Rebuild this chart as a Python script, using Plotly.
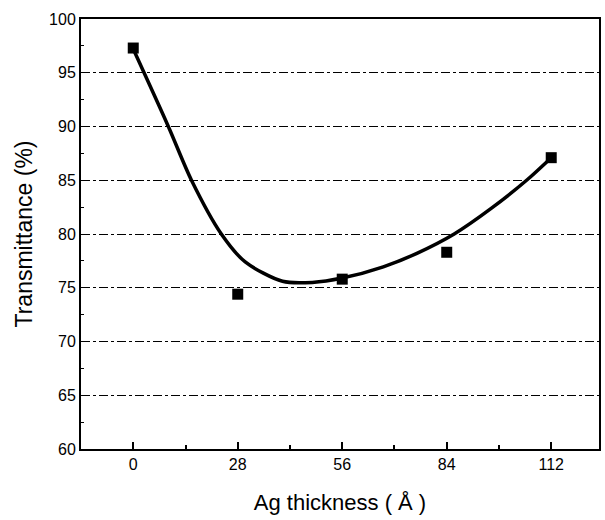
import plotly.graph_objects as go

thickness = [0, 28, 56, 84, 112]
transmittance = [97.3, 74.4, 75.8, 78.3, 87.1]

fit_x = [0, 9.4, 15.6, 23.6, 30, 40, 48, 56, 67, 76, 86, 96, 105.4, 112]
fit_y = [97.2, 90.0, 85.0, 80.0, 77.4, 75.6, 75.5, 75.9, 76.95, 78.2, 80.0, 82.4, 85.0, 87.1]

x_ticks = [0, 28, 56, 84, 112]
y_ticks = [60, 65, 70, 75, 80, 85, 90, 95, 100]

fig = go.Figure()
fig.add_trace(go.Scatter(x=fit_x, y=fit_y, mode="lines", line=dict(color="black", width=3.5, shape="spline", smoothing=0.8),
                         showlegend=False, hoverinfo="skip"))
fig.add_trace(go.Scatter(x=thickness, y=transmittance, mode="markers",
                         marker=dict(symbol="square", size=11, color="black"), showlegend=False))

fnt = "Liberation Sans Narrow, Arial Narrow, Liberation Sans, Arial, sans-serif"
tfnt = "Liberation Sans, Arial, sans-serif"
fig.update_layout(
    width=605, height=520,
    margin=dict(l=81, r=4, t=19, b=71),
    paper_bgcolor="white", plot_bgcolor="white",
    font=dict(family=fnt, color="black", size=16),
    xaxis=dict(range=[-14, 124.8], tickvals=x_ticks, ticks="inside", ticklen=7, tickwidth=1.5, tickcolor="black",
               showline=True, linecolor="black", linewidth=2, mirror=True, showgrid=False, zeroline=False,
               minor=dict(dtick=14, tick0=0, ticks="inside", ticklen=4, tickcolor="black", showgrid=False),
               tickfont=dict(size=16, family=fnt),
               title=dict(text="Ag thickness ( Å )", font=dict(size=22, family=tfnt), standoff=22)),
    yaxis=dict(range=[60, 100], tickvals=y_ticks, ticks="inside", ticklen=6, tickwidth=1, tickcolor="black",
               showline=True, linecolor="black", linewidth=2, mirror=True,
               showgrid=True, gridcolor="black", gridwidth=1, griddash="dashdot", zeroline=False,
               minor=dict(dtick=2.5, tick0=60, ticks="inside", ticklen=3, tickcolor="black", showgrid=False),
               tickfont=dict(size=16, family=fnt),
               title=dict(text="Transmittance (%)", font=dict(size=23, family=tfnt), standoff=10)),
)
fig.write_html("out.html")
